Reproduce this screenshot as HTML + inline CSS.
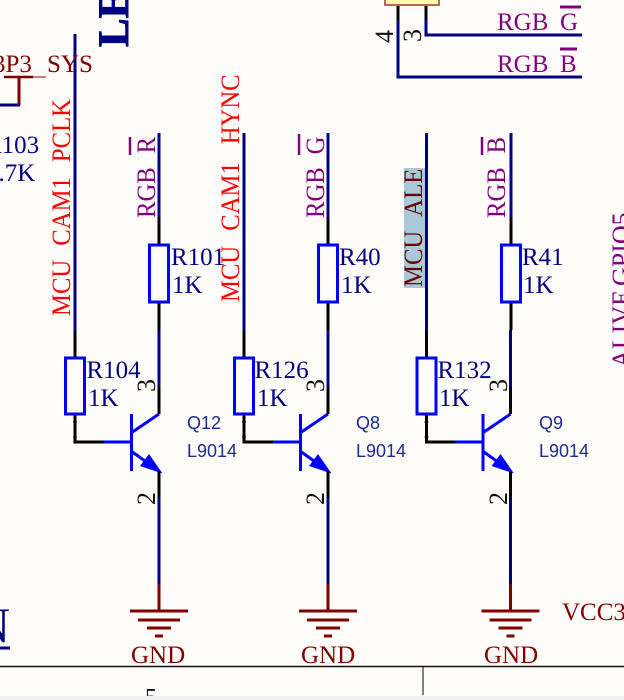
<!DOCTYPE html>
<html><head><meta charset="utf-8"><style>
html,body{margin:0;padding:0;background:#fffdf9;width:624px;height:700px;overflow:hidden}
svg{display:block}
text{font-family:"Liberation Serif",serif;font-size:25px}
.v{font-size:26px}
.n{fill:#000080}.r{fill:#ff0000}.p{fill:#800080}.d{fill:#800000}.k{fill:#111;font-size:26px}
.q{font-family:"Liberation Sans",sans-serif;font-size:18px;fill:#1a2a90}
</style></head><body>
<svg width="624" height="700" viewBox="0 0 624 700" xmlns="http://www.w3.org/2000/svg">
<defs>
<g id="b" fill="none" stroke-width="3">
<path d="M0 331V358" stroke="#000"/>
<path d="M0 414V442H29" stroke="#000" stroke-linejoin="miter"/>
<path d="M-2 422H2" stroke="#000" stroke-width="1"/>
<path d="M-2 437H2" stroke="#000" stroke-width="1"/>
<rect x="-9.5" y="358" width="19" height="56" stroke="#0000ff"/>
<path d="M29 442H56" stroke="#0000ff"/>
<path d="M56.500 414V471" stroke="#0000ff"/>
<path d="M56 433L84 414" stroke="#0000ff"/>
<path d="M56 451L70 461" stroke="#0000ff"/>
<path d="M87.500 473.500L65 466L74 454Z" fill="#0000ff" stroke="none"/>
<path d="M84 387V414M84 471V498" stroke="#000"/>
<path d="M84 330V387M84 498V584" stroke="#000080"/>
<path d="M84 584V611" stroke="#800000"/>
<path d="M55 611H113M63 620H105M72 628H96M80 636H88" stroke="#800000"/>
</g>
<g id="u" fill="none" stroke-width="3">
<path d="M0 218V245M0 302V330" stroke="#000"/>
<path d="M0 133V218" stroke="#000080"/>
<rect x="-9.5" y="245" width="19" height="57" stroke="#0000ff"/>
</g>
</defs>

<rect x="404" y="168" width="21" height="120" fill="#abc8d8"/>
<path d="M75 34V331M244 133V331M426.500 133V331" stroke="#000080" stroke-width="3" fill="none"/>

<use href="#b" x="75"/><use href="#b" x="244"/><use href="#b" x="426.500"/>
<use href="#u" x="159"/><use href="#u" x="328"/><use href="#u" x="511"/>

<!-- LED heading -->
<text transform="translate(128,47) rotate(-90)" style="font-size:43px;font-weight:bold;fill:#000080;stroke:#000080;stroke-width:1">LE</text>

<!-- 3P3 -->
<text class="d" x="-7" y="72">3P3<tspan x="47">SYS</tspan></text>
<path d="M33 77H46" stroke="#800000" stroke-width="1" fill="none"/>
<path d="M4 77H33" stroke="#800000" stroke-width="2.500" fill="none"/>
<path d="M19 77V105" stroke="#800000" stroke-width="3" fill="none"/>
<path d="M0 105H20" stroke="#000080" stroke-width="3" fill="none"/>
<text class="n" x="-15" y="153">R103</text>
<text class="n" x="-14" y="181">4.7K</text>

<!-- vertical labels -->
<text class="r v" transform="translate(70,316) rotate(-90) scale(.95,1)">MCU<tspan x="74">CAM1</tspan><tspan x="162">PCLK</tspan></text>
<text class="r v" transform="translate(239,302) rotate(-90) scale(.95,1)">MCU<tspan x="75">CAM1</tspan><tspan x="166">HYNC</tspan></text>
<text class="p v" transform="translate(155,218) rotate(-90) scale(.95,1)">RGB<tspan x="68">R</tspan></text>
<text class="p v" transform="translate(324,218) rotate(-90) scale(.95,1)">RGB<tspan x="67">G</tspan></text>
<text class="p v" transform="translate(505,218) rotate(-90) scale(.95,1)">RGB<tspan x="68">B</tspan></text>
<text class="v" transform="translate(422,287) rotate(-90) scale(.95,1)" style="fill:#660000">MCU<tspan x="74">ALE</tspan></text>
<text class="p v" transform="translate(630,368) rotate(-90)">ALIVE<tspan x="82">GPIO5</tspan></text>
<path d="M130 137V155M299 134V155M482 137V155" stroke="#800080" stroke-width="2.500" fill="none"/>

<!-- resistor labels -->
<text class="n" x="171" y="265">R101</text><text class="n" x="172" y="293">1K</text>
<text class="n" x="339" y="265">R40</text><text class="n" x="341" y="293">1K</text>
<text class="n" x="522" y="265">R41</text><text class="n" x="523" y="293">1K</text>
<text class="n" x="86.500" y="378">R104</text><text class="n" x="88" y="406">1K</text>
<text class="n" x="254.500" y="378">R126</text><text class="n" x="257" y="406">1K</text>
<text class="n" x="437.500" y="378">R132</text><text class="n" x="439" y="406">1K</text>

<!-- pin numbers -->
<text class="k" transform="translate(155,392) rotate(-90)">3</text>
<text class="k" transform="translate(324,392) rotate(-90)">3</text>
<text class="k" transform="translate(507,392) rotate(-90)">3</text>
<text class="k" transform="translate(155,505) rotate(-90)">2</text>
<text class="k" transform="translate(324,505) rotate(-90)">2</text>
<text class="k" transform="translate(507,505) rotate(-90)">2</text>

<!-- Q labels -->
<text class="q" x="187" y="429">Q12</text><text class="q" x="187" y="457">L9014</text>
<text class="q" x="356" y="429">Q8</text><text class="q" x="356" y="457">L9014</text>
<text class="q" x="539" y="429">Q9</text><text class="q" x="539" y="457">L9014</text>

<!-- GND -->
<text class="d" x="131" y="663">GND</text>
<text class="d" x="301" y="663">GND</text>
<text class="d" x="484" y="663">GND</text>
<text class="d" x="562" y="620">VCC3</text>

<!-- top right connector -->
<rect x="385" y="-10" width="54" height="15" fill="#ffffb0" stroke="#a03030" stroke-width="1.500"/>
<path d="M398 6V20M426 6V20" stroke="#000" stroke-width="3" fill="none"/>
<path d="M398 20V77H582" stroke="#000080" stroke-width="3" fill="none"/>
<path d="M426 20V35H582" stroke="#000080" stroke-width="3" fill="none"/>
<text class="k" transform="translate(393,43) rotate(-90)">4</text>
<text class="k" transform="translate(421,42) rotate(-90)">3</text>
<text class="p" x="497" y="30">RGB<tspan x="560">G</tspan></text>
<text class="p" x="497" y="72">RGB<tspan x="560">B</tspan></text>
<path d="M560 7H581M560 49H577" stroke="#800080" stroke-width="3" fill="none"/>

<!-- bottom-left N -->
<text x="-26" y="642" style="fill:#000080;font-size:50px">N</text>
<path d="M0 648H10" stroke="#000080" stroke-width="3" fill="none"/>

<!-- frame -->
<path d="M0 666.500H624" stroke="#111" stroke-width="1.500" fill="none"/>
<path d="M423 667V695" stroke="#555" stroke-width="1.500" fill="none"/>
<text x="145" y="705" style="fill:#111;font-size:24px">5</text>
<rect x="0" y="696" width="624" height="4" fill="#f0f0f0"/>
</svg>
</body></html>
